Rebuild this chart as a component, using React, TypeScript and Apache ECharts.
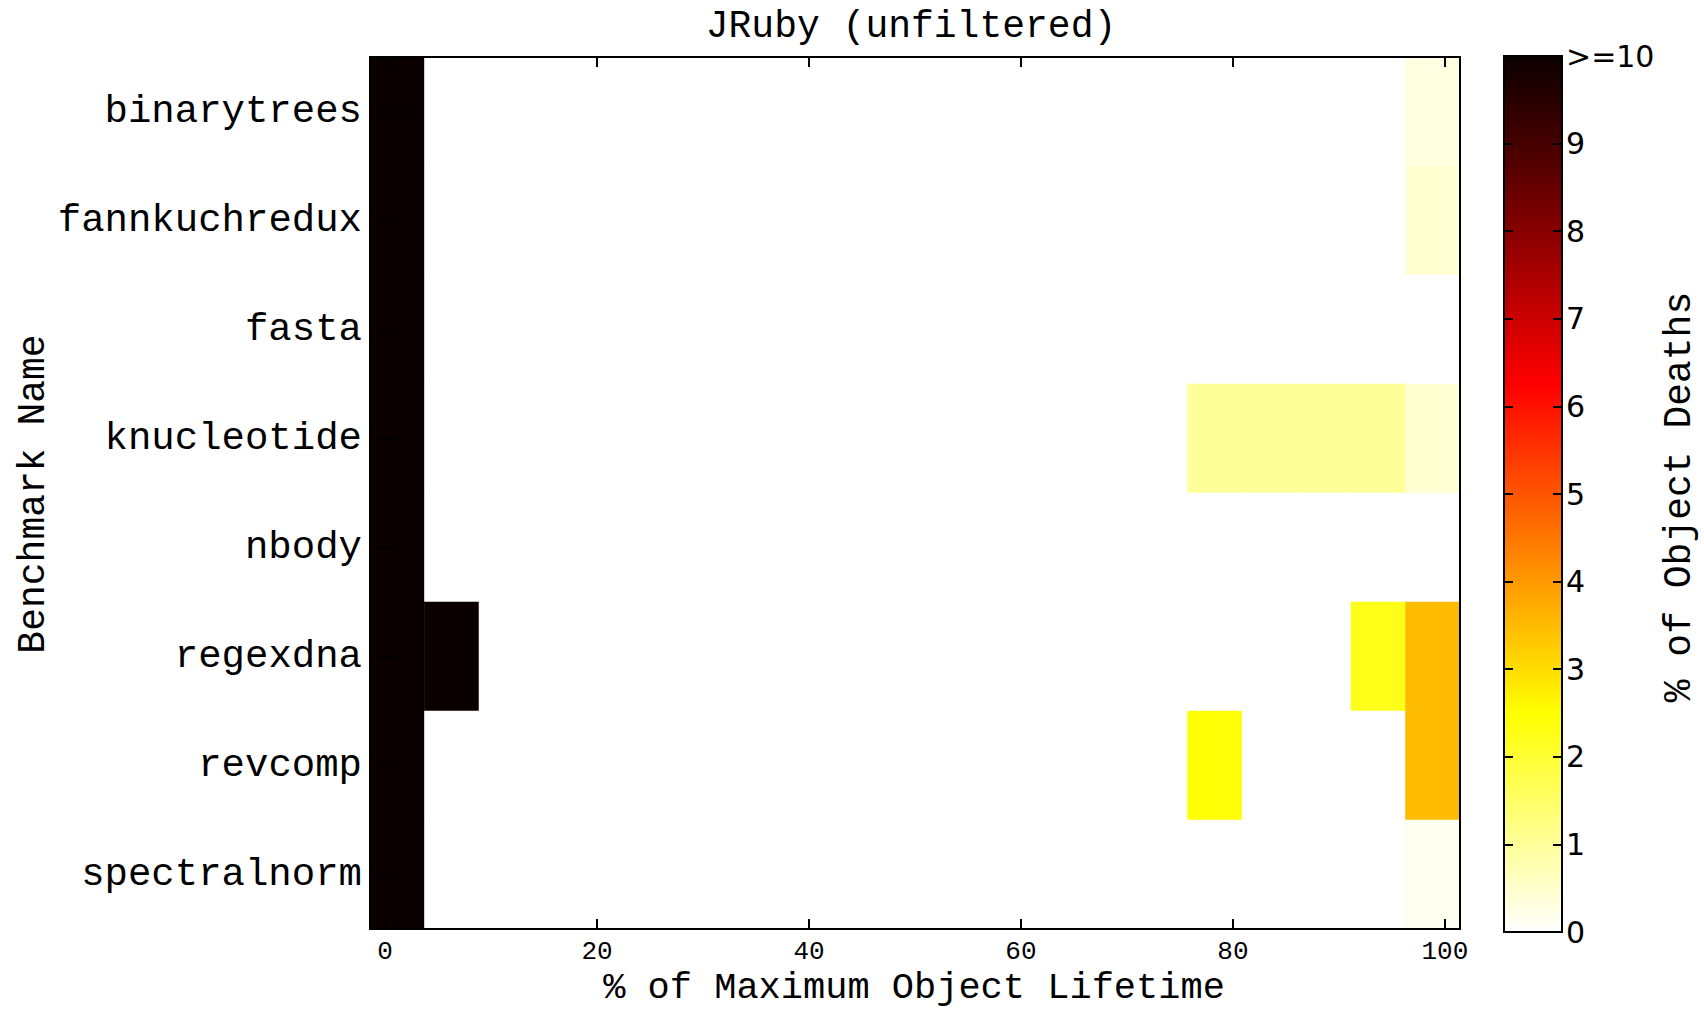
import React, { useEffect, useRef } from "react";
import * as echarts from "echarts";

// ---------- data ----------
const benchmarks = [
  "binarytrees",
  "fannkuchredux",
  "fasta",
  "knucleotide",
  "nbody",
  "regexdna",
  "revcomp",
  "spectralnorm",
];

// 20 lifetime bins (% of maximum object lifetime)
const bins = [
  "b00", "b01", "b02", "b03", "b04", "b05", "b06", "b07", "b08", "b09",
  "b10", "b11", "b12", "b13", "b14", "b15", "b16", "b17", "b18", "b19",
];

// % of object deaths per bin (10 means >=10)
const binarytrees = [10, 0, 0, 0, 0, 0, 0, 0, 0, 0, 0, 0, 0, 0, 0, 0, 0, 0, 0, 0.3];
const fannkuchredux = [10, 0, 0, 0, 0, 0, 0, 0, 0, 0, 0, 0, 0, 0, 0, 0, 0, 0, 0, 0.45];
const fasta = [10, 0, 0, 0, 0, 0, 0, 0, 0, 0, 0, 0, 0, 0, 0, 0, 0, 0, 0, 0];
const knucleotide = [10, 0, 0, 0, 0, 0, 0, 0, 0, 0, 0, 0, 0, 0, 0, 1.0, 1.0, 1.0, 1.0, 0.45];
const nbody = [10, 0, 0, 0, 0, 0, 0, 0, 0, 0, 0, 0, 0, 0, 0, 0, 0, 0, 0, 0];
const regexdna = [10, 10, 0, 0, 0, 0, 0, 0, 0, 0, 0, 0, 0, 0, 0, 0, 0, 0, 2.25, 3.5];
const revcomp = [10, 0, 0, 0, 0, 0, 0, 0, 0, 0, 0, 0, 0, 0, 0, 2.45, 0, 0, 0, 3.5];
const spectralnorm = [10, 0, 0, 0, 0, 0, 0, 0, 0, 0, 0, 0, 0, 0, 0, 0, 0, 0, 0, 0.15];

const rows = [binarytrees, fannkuchredux, fasta, knucleotide, nbody, regexdna, revcomp, spectralnorm];

const xTickValues = [0, 20, 40, 60, 80, 100];
const xMin = -1.43;
const xMax = 101.43;
const colorMin = 0;
const colorMax = 10;

// reversed "hot" palette, evenly spaced from 0 to 10
const paletteColors = [
  "#ffffff",
  "#ffff80",
  "#ffff00",
  "#ffaa00",
  "#ff5500",
  "#ff0000",
  "#aa0000",
  "#550000",
  "#0b0000",
];

const MONO = "Liberation Mono";
const SANS = "DejaVu Sans";

export default function App() {
  const ref = useRef<HTMLDivElement>(null);

  useEffect(() => {
    if (!ref.current) return;
    const chart = echarts.init(ref.current, null, { renderer: "svg" });

    const heatData: number[][] = [];
    rows.forEach((row, y) => {
      row.forEach((v, x) => heatData.push([x, y, v]));
    });

    const gradient = new echarts.graphic.LinearGradient(
      0,
      1,
      0,
      0,
      paletteColors.map((c, i) => ({ offset: i / (paletteColors.length - 1), color: c }))
    );

    const tickStyle = { color: "#000", width: 2 };

    const option: any = {
      animation: false,
      backgroundColor: "#fff",
      title: {
        text: "JRuby (unfiltered)",
        left: 906,
        top: 2,
        textAlign: "center",
        textStyle: { fontFamily: MONO, fontSize: 38, fontWeight: "normal", color: "#000" },
      },
      grid: [
        {
          left: 370,
          right: 244,
          top: 57,
          bottom: 81,
          show: true,
          z: 10,
          borderColor: "#000",
          borderWidth: 2,
          backgroundColor: "transparent",
        },
        {
          left: 1504,
          width: 58,
          top: 56,
          bottom: 78,
          show: true,
          z: 10,
          borderColor: "#000",
          borderWidth: 2,
          backgroundColor: "transparent",
        },
      ],
      xAxis: [
        {
          type: "category",
          gridIndex: 0,
          data: bins,
          show: false,
        },
        {
          type: "value",
          gridIndex: 0,
          position: "bottom",
          min: xMin,
          max: xMax,
          z: 10,
          axisLine: { show: false },
          splitLine: { show: false },
          axisTick: { show: true, inside: true, length: 10, lineStyle: tickStyle, customValues: xTickValues },
          axisLabel: {
            show: true,
            customValues: xTickValues,
            fontFamily: MONO,
            fontSize: 26,
            lineHeight: 26,
            color: "#000",
            margin: 10,
          },
        },
        {
          type: "value",
          gridIndex: 0,
          position: "top",
          min: xMin,
          max: xMax,
          z: 10,
          axisLine: { show: false },
          splitLine: { show: false },
          axisTick: { show: true, inside: true, length: 10, lineStyle: tickStyle, customValues: xTickValues },
          axisLabel: { show: false },
        },
        {
          type: "category",
          gridIndex: 1,
          data: ["scale"],
          show: false,
        },
      ],
      yAxis: [
        {
          type: "category",
          gridIndex: 0,
          data: benchmarks,
          inverse: true,
          position: "left",
          z: 10,
          axisLine: { show: false },
          splitLine: { show: false },
          axisTick: { show: true, inside: true, alignWithLabel: true, length: 10, lineStyle: tickStyle },
          axisLabel: { fontFamily: MONO, fontSize: 39, color: "#000", margin: 8 },
        },
        {
          type: "category",
          gridIndex: 0,
          data: benchmarks,
          inverse: true,
          position: "right",
          z: 10,
          axisLine: { show: false },
          splitLine: { show: false },
          axisTick: { show: true, inside: true, alignWithLabel: true, length: 10, lineStyle: tickStyle },
          axisLabel: { show: false },
        },
        {
          type: "value",
          gridIndex: 1,
          position: "right",
          min: colorMin,
          max: colorMax,
          interval: 1,
          z: 10,
          axisLine: { show: false },
          splitLine: { show: false },
          axisTick: { show: true, inside: true, length: 9, lineStyle: tickStyle },
          axisLabel: {
            fontFamily: SANS,
            fontSize: 30,
            color: "#000",
            margin: 4,
            formatter: (v: number) => (v >= colorMax ? ">=" + v : String(v)),
          },
        },
        {
          type: "value",
          gridIndex: 1,
          position: "left",
          min: colorMin,
          max: colorMax,
          interval: 1,
          z: 10,
          axisLine: { show: false },
          splitLine: { show: false },
          axisTick: { show: true, inside: true, length: 9, lineStyle: tickStyle },
          axisLabel: { show: false },
        },
      ],
      visualMap: {
        type: "continuous",
        show: false,
        min: colorMin,
        max: colorMax,
        seriesIndex: 0,
        inRange: { color: paletteColors },
      },
      graphic: [
        {
          type: "text",
          x: 914,
          y: 988,
          style: {
            text: "% of Maximum Object Lifetime",
            font: `37px "${MONO}"`,
            lineHeight: 34,
            fill: "#000",
            align: "center",
            verticalAlign: "middle",
          },
        },
        {
          type: "text",
          x: 33,
          y: 494,
          rotation: Math.PI / 2,
          style: {
            text: "Benchmark Name",
            font: `38px "${MONO}"`,
            fill: "#000",
            align: "center",
            verticalAlign: "middle",
          },
        },
        {
          type: "text",
          x: 1679,
          y: 497,
          rotation: Math.PI / 2,
          style: {
            text: "% of Object Deaths",
            font: `38px "${MONO}"`,
            fill: "#000",
            align: "center",
            verticalAlign: "middle",
          },
        },
      ],
      series: [
        {
          type: "heatmap",
          xAxisIndex: 0,
          yAxisIndex: 0,
          data: heatData,
          itemStyle: { borderWidth: 0 },
          emphasis: { disabled: true },
        },
        {
          type: "bar",
          xAxisIndex: 3,
          yAxisIndex: 2,
          data: [colorMax],
          barWidth: "100%",
          itemStyle: { color: gradient },
          silent: true,
        },
      ],
    };

    chart.setOption(option);
    return () => chart.dispose();
  }, []);

  return (
    <div
      ref={ref}
      style={{ position: "fixed", left: 0, top: 0, width: 1704, height: 1010, background: "#fff" }}
    />
  );
}
